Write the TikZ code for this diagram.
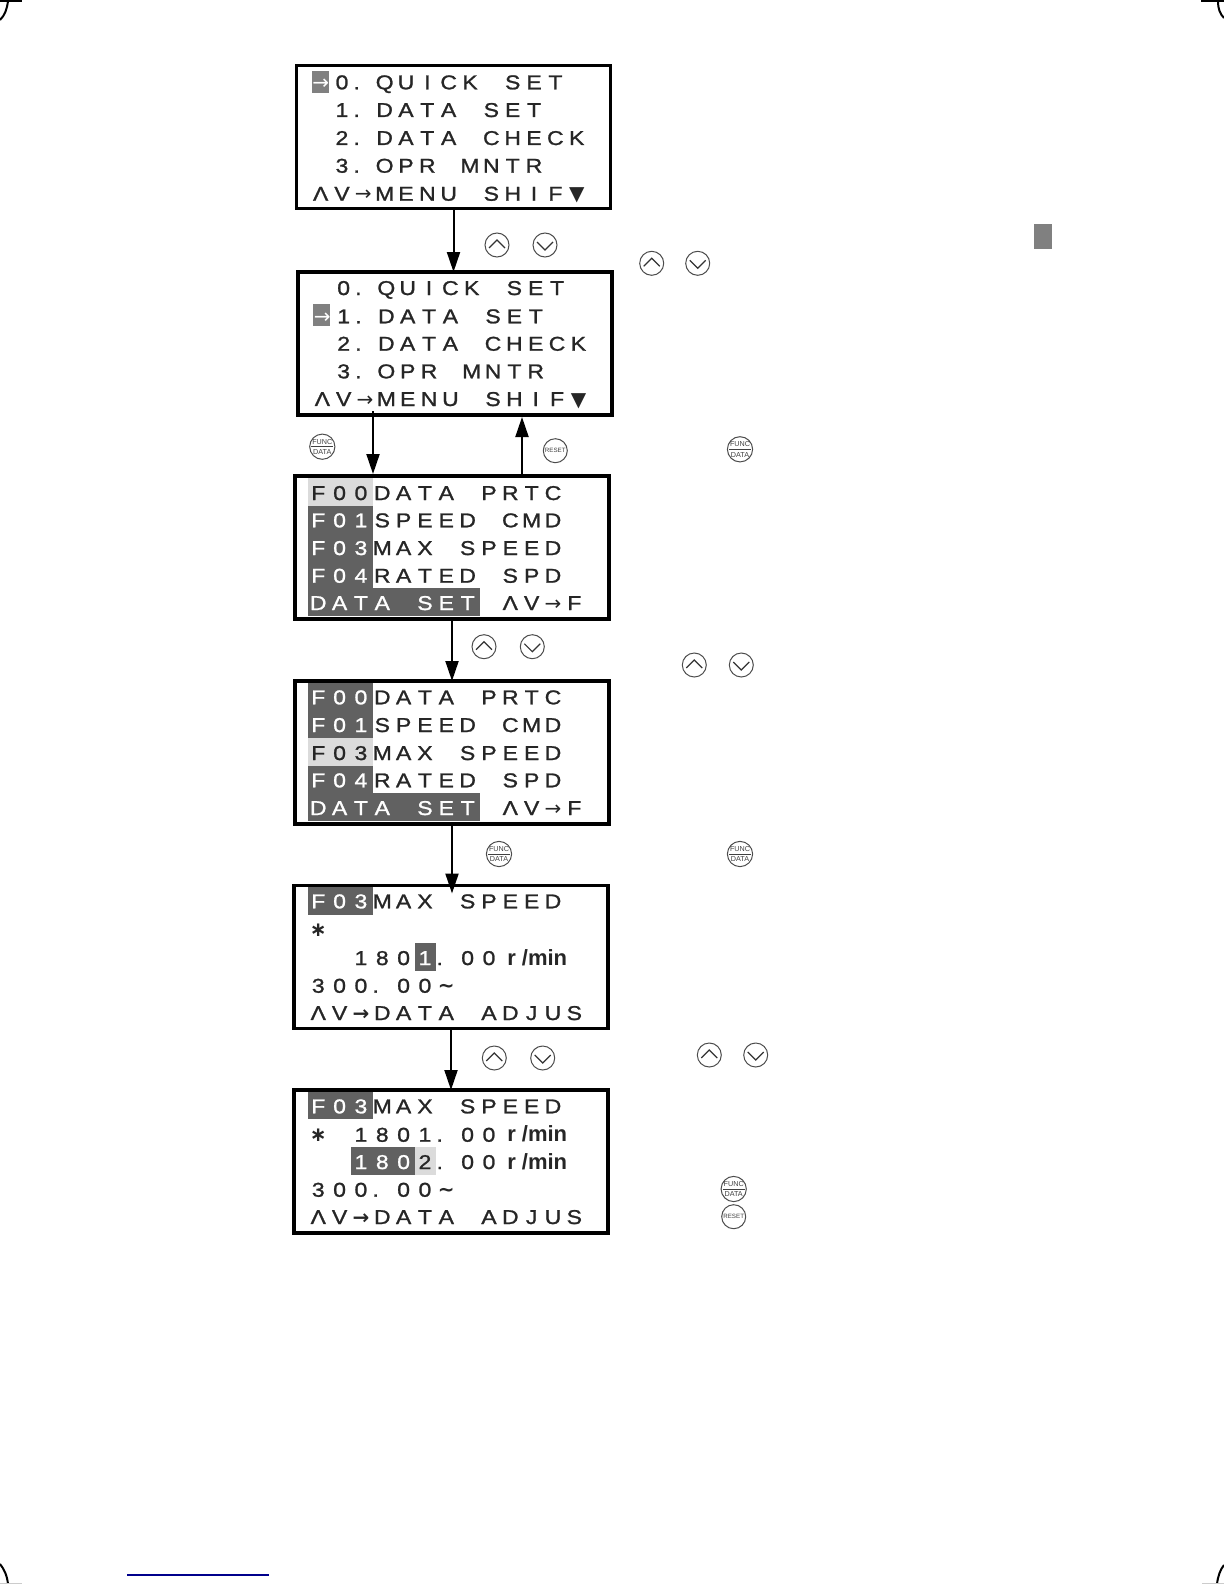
\documentclass[tikz,border=0pt]{standalone}
\usepackage{fontspec}
\usepackage{tikz}
\usetikzlibrary{arrows.meta,positioning,calc}
\setmainfont{Liberation Sans}
\newfontfamily\lcdfont[FakeBold=1.2,FakeStretch=1.15]{Liberation Sans}
\newfontfamily\lcdsym{DejaVu Sans}
\newcommand{\lcdarrow}{{\lcdsym →}}
\newcommand{\lcdheavy}{{\lcdsym\bfseries →}}
\newcommand{\lcddown}{{\lcdsym ▼}}
\newcommand{\lcdstar}{{\lcdsym\bfseries ∗}}
\newcommand{\lcdwave}{{\lcdsym\bfseries ∼}}
% one character per display cell
\makeatletter
\def\lcd@dot{.}
\newcommand{\lcdcell}[1]{\ifx#1\lcd@dot
  \makebox[10.67pt][c]{\kern-6.6pt.}\else\makebox[10.67pt][c]{#1}\fi}
\newcommand{\lcd}[2][black!85]{\textcolor{#1}{\@tfor\lcd@c:=#2\do{\lcdcell{\lcd@c}}}}
\makeatother

\begin{document}
\begin{tikzpicture}[
  x=0.5pt, y=-0.5pt,
  screen/.style={draw, line width=1.75pt, fill=white, outer sep=0pt,
    minimum width=157pt, minimum height=71.5pt},
  row/.style={anchor=base west, inner sep=0pt, outer sep=0pt,
    font=\lcdfont\fontsize{10pt}{10pt}\selectfont},
  unit/.style={anchor=base west, inner sep=0pt, text=black!85,
    font=\bfseries\fontsize{11pt}{11pt}\selectfont},
  dark/.style={fill=black!62},
  light/.style={fill=black!14},
  flow/.style={-{Stealth[length=10pt,width=6.5pt,inset=0pt]}, line width=1pt},
  crop/.style={line width=1pt},
  key/.style={circle, draw=black!70, line width=0.5pt, minimum size=12pt,
    inner sep=0pt, outer sep=0pt},
  keyup/.style={key, path picture={\draw[line width=0.6pt, black!80]
    ([shift={(-8,3)}]path picture bounding box.center) --
    ([shift={(0,-5)}]path picture bounding box.center) --
    ([shift={(8,3)}]path picture bounding box.center);}},
  keydown/.style={key, path picture={\draw[line width=0.6pt, black!80]
    ([shift={(-8,-3)}]path picture bounding box.center) --
    ([shift={(0,5)}]path picture bounding box.center) --
    ([shift={(8,-3)}]path picture bounding box.center);}},
  keyfunc/.style={key, align=center, text=black!75,
    font=\fontsize{3.6pt}{5.2pt}\selectfont,
    path picture={\draw[line width=0.35pt, black!75]
    ([shift={(-11,0)}]path picture bounding box.center) --
    ([shift={(11,0)}]path picture bounding box.center);}},
  keyreset/.style={key, text=black!75, font=\fontsize{3.1pt}{4pt}\selectfont}
]
\useasboundingbox (0,0) rectangle (1224,1584);

% crop marks
\draw[crop] (0,1) -- (22,1);
\draw[crop] (8,1) .. controls (7,9) and (5,15) .. (0,20);
\draw[crop] (1201,1) -- (1224,1);
\draw[crop] (1218,1) .. controls (1218,9) and (1220,14) .. (1224,18);
\draw[crop] (0,1564) .. controls (4,1569) and (7,1575) .. (8,1584);
\draw[crop] (1224,1565) .. controls (1220,1570) and (1218,1576) .. (1217,1584);
\draw[black!20, line width=0.5pt] (0,1583) -- (22,1583);
\draw[black!20, line width=0.5pt] (1202,1583) -- (1224,1583);

% loose marks
\fill[black!50] (1034,224) rectangle (1052,249);
\draw[blue!55!black, line width=0.7pt] (127,1575) -- (269,1575);

% 0. QUICK SET
\node[screen] (scrA) at (453.5,137) {};
\fill[black!50] (312,71) rectangle (329,93);
\node[row] (a1) at (310,89.3) {\lcd[white]{\lcdarrow}\lcd{0.QUICK~SET}};
\node[row] (a2) at (331.3,117) {\lcd{1.DATA~SET}};
\node[row] (a3) at (331.3,145) {\lcd{2.DATA~CHECK}};
\node[row] (a4) at (331.3,172.7) {\lcd{3.OPR~MNTR}};
\node[row] (a5) at (310,200.7) {\lcd{ΛV\lcdarrow MENU~SHIF\lcddown}};

% 1. DATA SET
\node[screen] (scrB) at (455,343.5) {};
\fill[black!50] (313,304) rectangle (330,326);
\node[row] (b1) at (333,295) {\lcd{0.QUICK~SET}};
\node[row] (b2) at (311.7,323.3) {\lcd[white]{\lcdarrow}\lcd{1.DATA~SET}};
\node[row] (b3) at (333,350.7) {\lcd{2.DATA~CHECK}};
\node[row] (b4) at (333,378.3) {\lcd{3.OPR~MNTR}};
\node[row] (b5) at (311.7,406) {\lcd{ΛV\lcdarrow MENU~SHIF\lcddown}};

% function list, F00
\node[screen] (scrC) at (452,547.5) {};
\fill[light] (308,478) rectangle (372.7,506);
\fill[dark] (308,506) rectangle (372.7,588);
\fill[dark] (308,588) rectangle (479.5,616);
\node[row] (c1) at (307.6,500) {\lcd{F00DATA~PRTC}};
\node[row] (c2) at (307.6,527.3) {\lcd[white]{F01}\lcd{SPEED~CMD}};
\node[row] (c3) at (307.6,555) {\lcd[white]{F03}\lcd{MAX~SPEED}};
\node[row] (c4) at (307.6,582.7) {\lcd[white]{F04}\lcd{RATED~SPD}};
\node[row] (c5) at (307.6,610) {\lcd[white]{DATA~SET}\lcd{~ΛV\lcdarrow F}};

% function list, F03
\node[screen] (scrD) at (452,752.5) {};
\fill[dark] (308,683) rectangle (372.7,738);
\fill[light] (308,738) rectangle (372.7,766);
\fill[dark] (308,766) rectangle (372.7,793);
\fill[dark] (308,793) rectangle (479.5,821);
\node[row] (d1) at (307.6,704.3) {\lcd[white]{F00}\lcd{DATA~PRTC}};
\node[row] (d2) at (307.6,732) {\lcd[white]{F01}\lcd{SPEED~CMD}};
\node[row] (d3) at (307.6,760) {\lcd{F03MAX~SPEED}};
\node[row] (d4) at (307.6,787.3) {\lcd[white]{F04}\lcd{RATED~SPD}};
\node[row] (d5) at (307.6,815) {\lcd[white]{DATA~SET}\lcd{~ΛV\lcdarrow F}};

% F03 edit, first digit
\node[screen] (scrE) at (451,957) {};
\fill[dark] (308,887) rectangle (372.7,915);
\fill[dark] (415,942.7) rectangle (436,970.7);
\node[row] (e1) at (307.6,908.3) {\lcd[white]{F03}\lcd{MAX~SPEED}};
\node[row] (e2) at (307.6,936) {\lcd{\lcdstar}};
\node[row] (e3) at (350.3,965) {\lcd{180}\lcd[white]{1}\lcd{.00}};
\node[unit] (e3u) at (507,965) {r\kern3pt/min};
\node[row] (e4) at (307.6,992.7) {\lcd{300.00\lcdwave}};
\node[row] (e5) at (307.6,1020) {\lcd{ΛV\lcdheavy DATA~ADJUS}};

% F03 edit, second digit
\node[screen] (scrF) at (451,1161.5) {};
\fill[dark] (308,1092) rectangle (372.7,1119.3);
\fill[dark] (351,1147) rectangle (415,1175);
\fill[light] (415,1147) rectangle (436,1175);
\node[row] (f1) at (307.6,1113.3) {\lcd[white]{F03}\lcd{MAX~SPEED}};
\node[row] (f2) at (307.6,1141.7) {\lcd{\lcdstar~1801.00}};
\node[unit] (f2u) at (507,1141.7) {r\kern3pt/min};
\node[row] (f3) at (350.3,1169) {\lcd[white]{180}\lcd{2.00}};
\node[unit] (f3u) at (507,1169) {r\kern3pt/min};
\node[row] (f4) at (307.6,1196.7) {\lcd{300.00\lcdwave}};
\node[row] (f5) at (307.6,1224) {\lcd{ΛV\lcdheavy DATA~ADJUS}};

% arrows between screens
\coordinate (outB) at (373,411);
\coordinate (outC) at (522,474);
\draw[flow] (scrA.south) -- (scrA.south |- scrB.north);
\draw[flow] (outB) -- ([yshift=1pt]outB |- scrC.north);
\draw[flow] (outC) -- ([yshift=-1pt]outC |- scrB.south);
\draw[flow] (scrC.south) -- (scrC.south |- scrD.north);
\draw[flow] (scrD.south) -- ([yshift=-4pt]scrD.south |- scrE.north);
\draw[flow] (scrE.south) -- (scrE.south |- scrF.north);

% keys
\node[keyup] (upA) at (497,245) {};
\node[keydown] (downA) at (545,245) {};
\node[keyup] (upB) at (651.7,263.3) {};
\node[keydown] (downB) at (697.7,263.3) {};
\node[keyfunc] (funcA) at (322.3,446.7) {FUNC\\DATA};
\node[keyreset] (resetA) at (555.3,450.7) {RESET};
\node[keyfunc] (funcB) at (740,449.3) {FUNC\\DATA};
\node[keyup] (upC) at (484,646.7) {};
\node[keydown] (downC) at (532.3,646.7) {};
\node[keyup] (upD) at (694.3,665) {};
\node[keydown] (downD) at (741.3,665) {};
\node[keyfunc] (funcC) at (499,854) {FUNC\\DATA};
\node[keyfunc] (funcD) at (740,854) {FUNC\\DATA};
\node[keyup] (upE) at (494.3,1058) {};
\node[keydown] (downE) at (542.7,1058) {};
\node[keyup] (upF) at (709.3,1055) {};
\node[keydown] (downF) at (755.7,1055) {};
\node[keyfunc] (funcE) at (733.7,1189) {FUNC\\DATA};
\node[keyreset] (resetB) at (733.7,1216.7) {RESET};
\end{tikzpicture}
\end{document}
